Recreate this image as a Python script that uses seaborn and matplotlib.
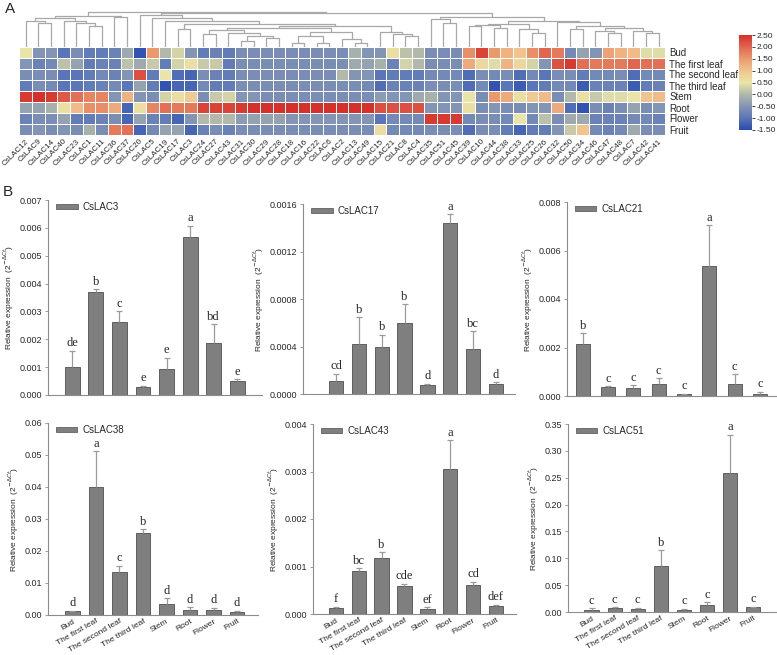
import numpy as np
import pandas as pd
import matplotlib
matplotlib.use("Agg")
import matplotlib.pyplot as plt
from matplotlib.colors import LinearSegmentedColormap
from matplotlib.patches import Patch
import seaborn as sns

# ---- heatmap data (columns in dendrogram order) ----
genes = ["CsLAC12", "CsLAC9", "CsLAC14", "CsLAC40", "CsLAC23", "CsLAC1", "CsLAC11", "CsLAC36",
         "CsLAC37", "CsLAC20", "CsLAC5", "CsLAC19", "CsLAC17", "CsLAC3", "CsLAC24", "CsLAC27",
         "CsLAC43", "CsLAC31", "CsLAC30", "CsLAC29", "CsLAC28", "CsLAC18", "CsLAC16", "CsLAC22",
         "CsLAC6", "CsLAC2", "CsLAC13", "CsLAC49", "CsLAC15", "CsLAC21", "CsLAC8", "CsLAC4",
         "CsLAC35", "CsLAC51", "CsLAC45", "CsLAC39", "CsLAC10", "CsLAC44", "CsLAC38", "CsLAC33",
         "CsLAC25", "CsLAC26", "CsLAC32", "CsLAC50", "CsLAC34", "CsLAC46", "CsLAC47", "CsLAC48",
         "CsLAC7", "CsLAC42", "CsLAC41"]
tissues = ["Bud", "The first leaf", "The second leaf", "The third leaf", "Stem", "Root", "Flower", "Fruit"]

bud = [0.5, -0.5, -0.5, -1.0, -0.6, -0.9, -0.9, -0.8, -0.2, -1.4,
       1.5, 0.0, 0.3, -0.5, -0.9, -0.8, -0.9, -0.6, -0.6,
       -0.6, -0.6, -0.6, -0.6, -0.6, -0.6, -0.6, -0.1, -0.5, -0.5,
       0.6, 0.1, 0.0, -0.6, -0.6, -0.6,
       1.6, 2.3, 1.5, 1.2, 1.0, 1.6, 2.0, 1.8, -0.7, -0.3, -0.5, 1.4, 1.2, 1.1, 0.4, 0.4]
first_leaf = [-0.5, -0.8, -0.7, 0.1, -0.3, -0.9, -0.8, -0.8, 0.1, -0.2,
              0.2, -0.9, 0.3, 0.6, 0.2, 0.2, -0.9, -0.6, -0.6,
              -0.6, -0.6, -0.6, -0.6, -0.6, -0.6, -0.6, -0.2, -0.3, -0.1,
              -0.8, 0.3, 0.0, -0.6, -0.6, -0.6,
              1.3, 0.7, 0.4, 1.2, 0.7, 0.3, -0.5, 2.2, 2.4, 1.9, 1.8, 1.8, 1.8, 2.0, 1.9, 1.9]
second_leaf = [-0.6, -0.6, -0.6, -1.0, -1.0, -0.9, -0.7, -0.8, -0.5, 2.2,
               -0.9, 0.5, -1.1, -1.2, -0.6, -0.8, -0.9, -0.6, -0.6,
               -0.6, -0.6, -0.6, -0.6, -0.6, -0.6, 0.0, -0.5, -0.5, -1.0,
               -0.9, -0.9, -0.9, -0.7, -0.7, -0.7,
               -1.1, -0.6, -0.7, -0.6, -1.1, -0.7, -1.0, -0.6, -0.6, -0.9, -0.7, -0.7, -0.6, -1.1, -0.7, -0.7]
third_leaf = [-0.9, -0.6, -0.7, -1.0, -1.0, -0.9, -0.8, -0.7, -1.0, -0.3,
              -0.9, -1.4, -1.2, -1.2, -0.7, -0.9, -0.9, -0.6, -0.6,
              -0.6, -0.6, -0.6, -0.6, -0.6, -0.6, -0.6, -0.6, -0.7, -1.1,
              -0.8, -0.8, -0.8, -0.6, -0.6, -0.6,
              -1.1, -0.7, -1.4, -1.0, -1.3, -1.0, -0.9, -0.7, -0.7, -1.3, -0.8, -0.8, -0.8, -1.3, -0.9, -0.8]
stem = [2.4, 2.5, 2.4, 2.1, 1.9, 1.7, 1.7, -0.5, 1.2, -0.5,
        -0.6, 0.3, 0.6, 0.9, -0.6, 0.2, 0.3, -0.5, -0.5,
        -0.6, -0.6, -0.6, -0.6, -0.6, -0.6, -0.6, -0.6, -0.6, -0.4,
        -0.5, -0.5, -0.2, -0.1, -0.5, -0.5,
        0.5, -0.6, 1.5, 1.3, 0.6, 0.9, 1.1, -0.6, 0.0, 0.6, 0.2, 0.4, 0.4, 0.5, 1.0, 1.1]
root = [-0.3, -0.3, -0.1, 0.6, 1.1, 1.6, 1.6, 1.3, -1.2, 0.6,
        1.7, 1.9, 1.8, 1.8, 2.3, 2.3, 2.3, 2.4, 2.5,
        2.5, 2.5, 2.5, 2.5, 2.5, 2.5, 2.5, 2.5, 2.5, 2.2,
        2.2, 2.2, 2.2, -0.5, -0.5, -0.5,
        0.6, -0.6, -0.5, -0.6, -0.6, -0.5, -0.5, 1.3, -1.1, -1.4, -0.6, -0.8, -0.6, -0.3, -0.6, -0.5]
flower = [-0.8, -0.6, -0.6, -0.3, -0.9, -0.9, -0.8, -0.6, -1.2, -0.3,
          -0.8, -0.9, -1.2, -0.5, 0.0, 0.0, 0.0, -0.4, -0.3,
          -0.3, -0.3, -0.5, -0.5, -0.5, -0.5, -0.5, -0.5, -0.5, -1.0,
          -0.7, -0.7, -0.7, 2.4, 2.4, 2.4,
          -0.7, -0.6, -0.6, -0.7, 0.5, -0.7, 0.1, -0.6, -0.2, -0.2, -0.8, -0.8, -0.8, -0.7, -0.7, -0.8]
fruit = [-0.6, -0.5, -0.6, -0.5, -0.6, -0.1, -0.6, 1.8, 1.9, -1.2,
         -0.7, -0.3, -0.3, -1.2, -0.8, -0.6, -0.8, -0.6, -0.6,
         -0.6, -0.6, -0.6, -0.6, -0.6, -0.6, -0.6, -0.6, -0.6, 0.6,
         -0.7, -0.7, -0.7, -0.6, -0.6, -0.6,
         -1.1, -0.6, -0.6, -0.9, -1.2, -0.9, -0.9, -0.5, 0.2, 1.0, -0.7, -0.8, -0.7, -0.2, -0.6, -0.6]

# ---- column dendrogram: (left, right, merge height), leaves are column indices ----
left_tree = (((0, (1, 2, 24.2), 26.4), (3, (4, (5, 6, 21), 24.2), 26.4), 28.7), (7, 8, 29.6), 31.2)
n14_20 = ((14, 15, 13), (16, ((17, 18, 6), (19, 20, 9), 11), 14), 17)
n21_27 = (((21, 22, 4), (23, 24, 4), 11), (25, (26, 27, 4), 8), 15)
n28_31 = (28, (29, (30, 31, 11), 13), 15.3)
mid_tree = (9, (10, (11, ((12, 13, 18.5), ((n14_20, n21_27, 19), n28_31, 21), 23.2), 26.4), 28.7), 31.8)
grp_bud = (((35, 36, 21), (37, 38, 19), 22), (39, (40, 41, 14), 18), 23.2)
grp_leaf = (42, ((43, 44, 18.5), ((45, (46, 47, 14), 16.5), (48, (49, 50, 14), 16), 19.5), 21), 25.5)
right_tree = ((32, (33, 34, 24.2), 28), (grp_bud, grp_leaf, 26.4), 29.6)
gene_tree = (left_tree, (mid_tree, right_tree, 33.8), 35)

# ---- qRT-PCR data: mean, error, significance letters ----
lac3_mean = [0.00102, 0.00371, 0.00261, 0.00028, 0.00092, 0.00566, 0.00186, 0.00049]
lac3_err = [0.00057, 0.00008, 0.00040, 0.00005, 0.00042, 0.00042, 0.00068, 0.00008]
lac3_sig = ["de", "b", "c", "e", "e", "a", "bd", "e"]

lac17_mean = [0.000112, 0.000423, 0.000392, 0.0006, 0.000076, 0.001438, 0.000381, 0.000081]
lac17_err = [0.00006, 0.000224, 0.000107, 0.000157, 0.00001, 0.000078, 0.00015, 0.00002]
lac17_sig = ["cd", "b", "b", "b", "d", "a", "bc", "d"]

lac21_mean = [0.00215, 0.00038, 0.00035, 0.0005, 0.00008, 0.00535, 0.0005, 0.0001]
lac21_err = [0.00045, 0.00003, 0.0001, 0.00023, 0.00001, 0.0017, 0.0004, 0.00007]
lac21_sig = ["b", "c", "c", "c", "c", "a", "c", "c"]

lac38_mean = [0.0011, 0.0399, 0.0135, 0.0256, 0.0035, 0.0015, 0.0015, 0.001]
lac38_err = [0.0002, 0.0113, 0.0019, 0.0013, 0.0018, 0.001, 0.0008, 0.0003]
lac38_sig = ["d", "a", "c", "b", "d", "d", "d", "d"]

lac43_mean = [0.00013, 0.0009, 0.00118, 0.00058, 0.0001, 0.00306, 0.00062, 0.00016]
lac43_err = [0.00002, 0.00006, 0.00012, 0.00006, 0.00004, 0.0006, 0.00006, 0.00004]
lac43_sig = ["f", "bc", "b", "cde", "ef", "a", "cd", "def"]

lac51_mean = [0.0043, 0.0074, 0.0055, 0.0858, 0.0037, 0.0135, 0.258, 0.0086]
lac51_err = [0.0025, 0.002, 0.0025, 0.029, 0.0025, 0.005, 0.072, 0.0012]
lac51_sig = ["c", "c", "c", "b", "c", "c", "a", "c"]

sns.set_style("ticks")
plt.rcParams["font.family"] = ["Liberation Sans", "DejaVu Sans"]

W, H = 777, 655
fig = plt.figure(figsize=(W / 100, H / 100), dpi=100)


def px_axes(left, top, right, bottom):
    return fig.add_axes([left / W, 1 - bottom / H, (right - left) / W, (bottom - top) / H])


# ---------------- A: heatmap ----------------
cmap = LinearSegmentedColormap.from_list("expr", [
    (0.000, "#2a4bb0"), (0.125, "#5a76b8"), (0.250, "#8395b4"), (0.375, "#b1b8aa"),
    (0.500, "#e9e5a7"), (0.625, "#f1c48f"), (0.750, "#eb9a6d"), (0.875, "#e16650"),
    (1.000, "#d5302a")])

heat = pd.DataFrame([bud, first_leaf, second_leaf, third_leaf, stem, root, flower, fruit],
                    index=tissues, columns=genes)

ax_h = px_axes(19.3, 47, 665, 135)
cax = px_axes(739, 35, 752, 130)
sns.heatmap(heat, ax=ax_h, cbar_ax=cax, cmap=cmap, vmin=-1.5, vmax=2.5,
            linewidths=0.6, linecolor="white", xticklabels=True, yticklabels=True)
ax_h.set_xlabel("")
ax_h.set_ylabel("")
ax_h.yaxis.tick_right()
ax_h.set_yticklabels(tissues, rotation=0, fontsize=7)
ax_h.set_xticklabels(genes, rotation=45, ha="right", rotation_mode="anchor", fontsize=5.8)
ax_h.tick_params(axis="both", length=0)
ax_h.tick_params(axis="y", pad=3)
ax_h.tick_params(axis="x", pad=2)

cb = ax_h.collections[0].colorbar
ticks = np.arange(-1.5, 2.51, 0.5)
cb.set_ticks(ticks)
cb.set_ticklabels([f"{t:.2f}" for t in ticks])
cb.ax.tick_params(labelsize=6, length=2, width=0.6, pad=1)

# dendrogram above the heatmap
ax_d = px_axes(19.3, 10, 665, 47)


def draw_tree(ax, node):
    if isinstance(node, int):
        return node + 0.5, 0.0
    left, right, h = node
    xl, hl = draw_tree(ax, left)
    xr, hr = draw_tree(ax, right)
    ax.plot([xl, xl, xr, xr], [hl, h, h, hr], color="#a8a8a8", lw=0.9,
            solid_capstyle="butt")
    return (xl + xr) / 2, h


draw_tree(ax_d, gene_tree)
ax_d.set_xlim(0, len(genes))
ax_d.set_ylim(0, 37)
ax_d.axis("off")

fig.text(10 / W, 1 - 9 / H, "A", fontsize=11, ha="center", va="center")
fig.text(8 / W, 1 - 192 / H, "B", fontsize=11, ha="center", va="center")

# ---------------- B: bar charts ----------------
panels = [
    ("CsLAC3", lac3_mean, lac3_err, lac3_sig, 0.007, 0.001, 3, (48, 200, 262, 395), (-1.03, 8.05), False),
    ("CsLAC17", lac17_mean, lac17_err, lac17_sig, 0.0016, 0.0004, 4, (303, 204, 515, 394), (-1.45, 7.84), False),
    ("CsLAC21", lac21_mean, lac21_err, lac21_sig, 0.008, 0.002, 3, (567, 202, 776, 396), (-0.62, 7.63), False),
    ("CsLAC38", lac38_mean, lac38_err, lac38_sig, 0.06, 0.01, 2, (48, 423, 258, 615), (-1.04, 7.89), True),
    ("CsLAC43", lac43_mean, lac43_err, lac43_sig, 0.004, 0.001, 3, (313, 424, 516, 614), (-1.0, 7.88), True),
    ("CsLAC51", lac51_mean, lac51_err, lac51_sig, 0.35, 0.05, 2, (568, 424, 776, 612), (-1.03, 8.0), True),
]

bar_color = "#7f7f7f"
edge_color = "#4f4f4f"
axis_color = "#8c8c8c"

for gene, mean, err, sig, ymax, step, dec, box, xlim, show_x in panels:
    ax = px_axes(*box)
    df = pd.DataFrame({"tissue": tissues, "value": mean})
    width = 0.55 if gene == "CsLAC21" else 0.63
    sns.barplot(data=df, x="tissue", y="value", ax=ax, color=bar_color, saturation=1,
                edgecolor=edge_color, linewidth=0.6, width=width, errorbar=None)
    xs = np.arange(len(mean))
    eb = ax.errorbar(xs, mean, yerr=[np.zeros(len(err)), err], fmt="none",
                     ecolor="#9b9b9b", elinewidth=0.9, capsize=2, capthick=0.9, zorder=3)
    eb[1][0].set_visible(False)
    for i in xs:
        ax.annotate(sig[i], (i, mean[i] + err[i]), xytext=(0, 1), textcoords="offset points",
                    ha="center", va="bottom", fontsize=9, family="Liberation Serif")

    ax.set_xlim(*xlim)
    ax.set_ylim(0, ymax)
    yt = np.arange(0, ymax + step / 2, step)
    ax.set_yticks(yt)
    ax.set_yticklabels([f"{v:.{dec}f}" for v in yt])
    ax.tick_params(axis="y", labelsize=6.5, length=2, width=0.6, color=axis_color, pad=2)
    ax.tick_params(axis="x", length=0, pad=2)
    ax.set_xlabel("")
    ax.set_ylabel("Relative expression  (2$^{-\\Delta Ct}$)", fontsize=6, labelpad=3)
    if show_x:
        ax.set_xticks(xs)
        ax.set_xticklabels(tissues, rotation=30, ha="right", rotation_mode="anchor", fontsize=6)
    else:
        ax.set_xticklabels([])
    sns.despine(ax=ax)
    for s in ("left", "bottom"):
        ax.spines[s].set_color(axis_color)
        ax.spines[s].set_linewidth(0.8)
    ax.legend(handles=[Patch(facecolor=bar_color, edgecolor=edge_color, linewidth=0.5)],
              labels=[gene], loc="upper left", bbox_to_anchor=(0.02, 1.01), frameon=False,
              fontsize=7, handlelength=2.2, handleheight=0.45, handletextpad=0.5,
              borderaxespad=0.0)

fig.savefig("out.png", dpi=100)
